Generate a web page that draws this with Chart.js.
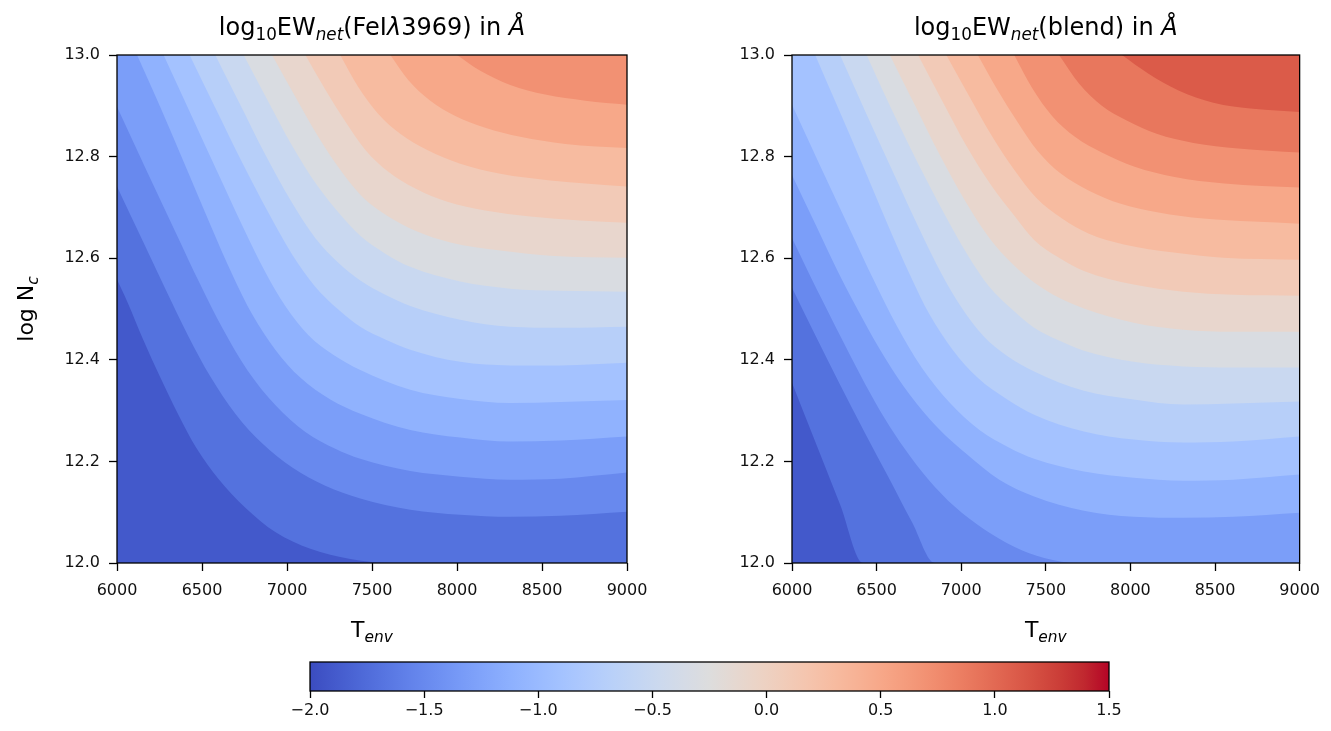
<!DOCTYPE html>
<html>
<head>
<meta charset="utf-8">
<script src="https://cdn.jsdelivr.net/npm/chart.js@4.4.1/dist/chart.umd.min.js"></script>
<style>
  html, body { margin: 0; padding: 0; background: #fff; }
  #wrap { position: relative; width: 1331px; height: 731px; background: #fff; }
  canvas { position: absolute; }
</style>
</head>
<body>
<div id="wrap">
  <canvas id="feiChart" width="660" height="650" style="left:0;top:0"></canvas>
  <canvas id="blendChart" width="660" height="650" style="left:670px;top:0"></canvas>
  <canvas id="cbarChart" width="940" height="91" style="left:240px;top:640px"></canvas>
</div>
<script>
// axes
const tempTicks = [6000, 6500, 7000, 7500, 8000, 8500, 9000];
const logNTicks = [12.0, 12.2, 12.4, 12.6, 12.8, 13.0];
const cbarTicks = [-2.0, -1.5, -1.0, -0.5, 0.0, 0.5, 1.0, 1.5];
const cbarRange = [-2.0, 1.5];

// filled contour levels, bands are 0.2 wide
const levelStep = 0.2;
const feiLevels = [-1.8, -1.6, -1.4, -1.2, -1.0, -0.8, -0.6, -0.4, -0.2, 0.0, 0.2, 0.4, 0.6];
const blendLevels = [-1.8, -1.6, -1.4, -1.2, -1.0, -0.8, -0.6, -0.4, -0.2, 0.0, 0.2, 0.4, 0.6, 0.8, 1.0];

// contour lines, [T_env, log N_c], left/top edge -> right/bottom edge
const feiContours = [
  [[6000,12.558],[6061,12.514],[6155,12.439],[6255,12.365],[6361,12.292],[6466,12.227],[6596,12.166],[6755,12.109],[6931,12.061],[7137,12.028],[7372,12.008],[7625,12.0]],
  [[6000,12.741],[6137,12.644],[6284,12.540],[6419,12.447],[6549,12.367],[6696,12.294],[6855,12.235],[7031,12.188],[7225,12.152],[7431,12.127],[7725,12.105],[8019,12.095],[8313,12.091],[8608,12.093],[9000,12.101]],
  [[6000,12.898],[6166,12.778],[6343,12.652],[6490,12.548],[6619,12.463],[6766,12.380],[6931,12.311],[7108,12.258],[7284,12.225],[7431,12.205],[7725,12.181],[8019,12.170],[8313,12.164],[8608,12.166],[9000,12.178]],
  [[6118,13.0],[6255,12.897],[6402,12.782],[6549,12.666],[6678,12.568],[6796,12.489],[6931,12.420],[7078,12.365],[7255,12.322],[7431,12.294],[7725,12.262],[8019,12.247],[8313,12.239],[8608,12.241],[9000,12.249]],
  [[6274,13.0],[6431,12.886],[6590,12.770],[6743,12.660],[6872,12.573],[6990,12.506],[7125,12.449],[7272,12.410],[7431,12.380],[7725,12.341],[8019,12.323],[8313,12.315],[8608,12.317],[9000,12.321]],
  [[6427,13.0],[6578,12.896],[6737,12.788],[6890,12.690],[7031,12.607],[7166,12.544],[7302,12.499],[7431,12.465],[7578,12.440],[7725,12.420],[8019,12.396],[8313,12.389],[8608,12.389],[9000,12.394]],
  [[6578,13.0],[6725,12.902],[6872,12.804],[7019,12.715],[7166,12.640],[7302,12.591],[7431,12.556],[7578,12.528],[7725,12.506],[8019,12.479],[8313,12.465],[8608,12.463],[9000,12.465]],
  [[6745,13.0],[6884,12.912],[7031,12.821],[7178,12.743],[7313,12.686],[7431,12.644],[7578,12.609],[7725,12.583],[8019,12.554],[8313,12.540],[8608,12.536],[9000,12.534]],
  [[6912,13.0],[7049,12.918],[7184,12.839],[7313,12.774],[7443,12.721],[7596,12.682],[7755,12.654],[7961,12.631],[8255,12.615],[8549,12.605],[9000,12.601]],
  [[7108,13.0],[7225,12.932],[7343,12.869],[7461,12.813],[7596,12.770],[7755,12.737],[7943,12.711],[8166,12.694],[8431,12.682],[8725,12.674],[9000,12.670]],
  [[7313,13.0],[7419,12.937],[7537,12.884],[7666,12.845],[7825,12.813],[8019,12.786],[8255,12.766],[8549,12.753],[9000,12.741]],
  [[7608,13.0],[7713,12.951],[7843,12.910],[7990,12.880],[8166,12.857],[8372,12.839],[8637,12.825],[9000,12.817]],
  [[8000,13.0],[8137,12.969],[8313,12.941],[8519,12.922],[8755,12.910],[9000,12.902]]
];
const blendContours = [
  [[6000,12.355],[6137,12.239],[6284,12.115],[6419,12.0]],
  [[6000,12.542],[6137,12.449],[6284,12.351],[6431,12.256],[6578,12.164],[6708,12.081],[6843,12.0]],
  [[6000,12.640],[6096,12.573],[6196,12.506],[6314,12.428],[6431,12.353],[6549,12.284],[6666,12.225],[6802,12.166],[6961,12.111],[7137,12.066],[7313,12.032],[7490,12.010],[7696,12.0]],
  [[6000,12.764],[6137,12.668],[6284,12.565],[6414,12.483],[6549,12.404],[6696,12.331],[6861,12.266],[7037,12.213],[7225,12.164],[7431,12.131],[7725,12.103],[8019,12.091],[8313,12.089],[8608,12.091],[9000,12.099]],
  [[6000,12.902],[6166,12.782],[6343,12.656],[6490,12.552],[6619,12.467],[6766,12.385],[6931,12.316],[7108,12.262],[7284,12.227],[7431,12.205],[7725,12.180],[8019,12.168],[8313,12.162],[8608,12.164],[9000,12.174]],
  [[6137,13.0],[6272,12.896],[6419,12.782],[6566,12.666],[6696,12.568],[6813,12.489],[6949,12.420],[7096,12.365],[7272,12.322],[7431,12.292],[7725,12.259],[8019,12.243],[8313,12.237],[8608,12.239],[9000,12.249]],
  [[6284,13.0],[6437,12.886],[6596,12.770],[6749,12.660],[6878,12.573],[6996,12.506],[7131,12.447],[7278,12.406],[7431,12.377],[7725,12.339],[8019,12.322],[8313,12.312],[8608,12.314],[9000,12.318]],
  [[6441,13.0],[6584,12.896],[6743,12.788],[6896,12.690],[7037,12.607],[7166,12.544],[7302,12.499],[7431,12.463],[7578,12.438],[7725,12.418],[8019,12.396],[8313,12.387],[8608,12.385],[9000,12.385]],
  [[6578,13.0],[6725,12.902],[6872,12.804],[7019,12.715],[7166,12.640],[7302,12.589],[7431,12.552],[7578,12.522],[7725,12.501],[8019,12.473],[8313,12.459],[8608,12.455],[9000,12.455]],
  [[6745,13.0],[6884,12.912],[7031,12.821],[7178,12.743],[7313,12.684],[7431,12.636],[7578,12.601],[7725,12.575],[8019,12.548],[8313,12.534],[8608,12.528],[9000,12.526]],
  [[6912,13.0],[7049,12.918],[7184,12.839],[7313,12.774],[7443,12.719],[7596,12.678],[7755,12.648],[7961,12.627],[8255,12.611],[8549,12.601],[9000,12.597]],
  [[7098,13.0],[7213,12.932],[7331,12.869],[7449,12.812],[7590,12.766],[7755,12.733],[7943,12.707],[8166,12.690],[8431,12.678],[8725,12.672],[9000,12.668]],
  [[7313,13.0],[7419,12.935],[7537,12.880],[7672,12.839],[7831,12.808],[8025,12.780],[8261,12.760],[8555,12.747],[9000,12.739]],
  [[7578,13.0],[7696,12.944],[7831,12.900],[7978,12.871],[8155,12.845],[8372,12.827],[8637,12.816],[9000,12.808]],
  [[7950,13.0],[8107,12.963],[8284,12.930],[8490,12.906],[8725,12.894],[9000,12.888]]
];

// matplotlib coolwarm, 33 samples
const CW = [[59,76,192],[68,90,204],[77,104,215],[87,117,225],[98,130,234],[108,142,241],[119,154,247],[130,165,251],
  [141,176,254],[152,185,255],[163,194,255],[174,201,253],[184,208,249],[194,213,244],[204,217,238],[213,219,230],
  [221,221,221],[229,216,209],[236,211,197],[241,204,185],[245,196,173],[247,187,160],[247,177,148],[247,166,135],
  [244,154,123],[241,141,111],[236,127,99],[229,112,88],[222,96,77],[213,80,66],[203,62,56],[192,40,47],[180,4,38]];

function coolwarm(t) {
  t = Math.min(1, Math.max(0, t));
  const f = t * 32, i = Math.min(31, Math.floor(f)), r = f - i;
  const c = CW[i].map((v, k) => Math.round(v + (CW[i + 1][k] - v) * r));
  return 'rgb(' + c.join(',') + ')';
}

// colour of the band that starts at `lower`
function bandColor(lower) {
  const mid = lower + levelStep / 2;
  return coolwarm((mid - cbarRange[0]) / (cbarRange[1] - cbarRange[0]));
}

const FONT = '"DejaVu Sans", sans-serif';
const tMin = tempTicks[0], tMax = tempTicks[tempTicks.length - 1];
const nMin = logNTicks[0], nMax = logNTicks[logNTicks.length - 1];

function contourDatasets(levels, contours) {
  const sets = [{ data: [{x: tMin, y: nMin}, {x: tMax, y: nMin}], backgroundColor: bandColor(levels[0] - levelStep) }];
  levels.forEach((lv, i) => {
    const pts = contours[i].map(([x, y]) => ({x, y}));
    // line leaves through the bottom: everything right of it is above the level
    if (pts[pts.length - 1].x < tMax) pts.push({x: tMax, y: nMin});
    sets.push({ data: pts, backgroundColor: bandColor(lv) });
  });
  // first dataset is drawn last, so put the highest level first
  return sets.reverse().map(s => Object.assign(s, {
    fill: 'end', borderWidth: 0, borderColor: 'rgba(0,0,0,0)', pointRadius: 0,
    cubicInterpolationMode: 'monotone'
  }));
}

// text with sub scripts, like matplotlib mathtext
function drawRich(ctx, parts, x, y, size, rot) {
  const fontOf = p => (p.it ? 'italic ' : '') + (p.sub ? size * 0.7 : size) + 'px ' + FONT;
  let w = 0;
  parts.forEach(p => { ctx.font = fontOf(p); w += ctx.measureText(p.t).width; });
  ctx.save();
  ctx.translate(x, y);
  if (rot) ctx.rotate(rot);
  ctx.fillStyle = '#000';
  ctx.textBaseline = 'alphabetic';
  ctx.textAlign = 'left';
  let cx = -w / 2;
  parts.forEach(p => {
    ctx.font = fontOf(p);
    ctx.fillText(p.t, cx, p.sub ? size * 0.22 : 0);
    cx += ctx.measureText(p.t).width;
  });
  ctx.restore();
}

function panelText(cfg) {
  return {
    id: 'panelText',
    afterDraw(chart) {
      const {ctx, chartArea: a} = chart;
      ctx.save();
      ctx.strokeStyle = '#000';
      ctx.lineWidth = 1.3;
      ctx.strokeRect(a.left, a.top, a.right - a.left, a.bottom - a.top);
      ctx.restore();
      const cx = (a.left + a.right) / 2;
      drawRich(ctx, cfg.title, cx, a.top - 20, 24);
      drawRich(ctx, cfg.xlabel, cx, a.bottom + 74, 22);
      if (cfg.ylabel) drawRich(ctx, cfg.ylabel, a.left - 84, (a.top + a.bottom) / 2, 22, -Math.PI / 2);
    }
  };
}

function panel(id, levels, contours, yAxisWidth, padRight, text) {
  new Chart(document.getElementById(id), {
    type: 'line',
    data: { datasets: contourDatasets(levels, contours) },
    options: {
      responsive: false, animation: false, events: [],
      layout: { padding: { left: 0, top: 55, right: padRight, bottom: 0 } },
      plugins: { legend: { display: false }, tooltip: { enabled: false } },
      scales: {
        x: {
          type: 'linear', min: tMin, max: tMax,
          afterBuildTicks: s => { s.ticks = tempTicks.map(value => ({value})); },
          afterFit: s => { s.height = 87; },
          grid: { drawOnChartArea: false, drawTicks: true, tickLength: 8, tickColor: '#000', tickWidth: 1.3 },
          border: { display: false },
          ticks: { color: '#111', padding: 10, maxRotation: 0, font: { family: FONT, size: 16 }, callback: v => String(v) }
        },
        y: {
          type: 'linear', min: nMin, max: nMax,
          afterBuildTicks: s => { s.ticks = logNTicks.map(value => ({value})); },
          afterFit: s => { s.width = yAxisWidth; },
          grid: { drawOnChartArea: false, drawTicks: true, tickLength: 8, tickColor: '#000', tickWidth: 1.3 },
          border: { display: false },
          ticks: { color: '#111', padding: 9, font: { family: FONT, size: 16 }, callback: v => v.toFixed(1) }
        }
      }
    },
    plugins: [panelText(text)]
  });
}

const titleStart = [{t: 'log'}, {t: '10', sub: 1}, {t: 'EW'}, {t: 'net', sub: 1, it: 1}];

panel('feiChart', feiLevels, feiContours, 117, 33, {
  title: titleStart.concat([{t: '(FeI'}, {t: '\u03bb', it: 1}, {t: '3969) in '}, {t: '\u00c5', it: 1}]),
  xlabel: [{t: 'T'}, {t: 'env', sub: 1, it: 1}],
  ylabel: [{t: 'log N'}, {t: 'c', sub: 1, it: 1}]
});

panel('blendChart', blendLevels, blendContours, 122, 30, {
  title: titleStart.concat([{t: '(blend) in '}, {t: '\u00c5', it: 1}]),
  xlabel: [{t: 'T'}, {t: 'env', sub: 1, it: 1}]
});

// colour bar: one floating bar across the full range, painted with the colormap
new Chart(document.getElementById('cbarChart'), {
  type: 'bar',
  data: {
    labels: [''],
    datasets: [{
      data: [cbarRange],
      borderWidth: 0,
      barPercentage: 1,
      categoryPercentage: 1,
      backgroundColor: ctx => {
        const a = ctx.chart.chartArea;
        if (!a) return '#888';
        const g = ctx.chart.ctx.createLinearGradient(a.left, 0, a.right, 0);
        CW.forEach((c, i) => g.addColorStop(i / 32, 'rgb(' + c.join(',') + ')'));
        return g;
      }
    }]
  },
  options: {
    indexAxis: 'y',
    responsive: false, animation: false, events: [],
    layout: { padding: { left: 70, top: 22, right: 71, bottom: 0 } },
    plugins: { legend: { display: false }, tooltip: { enabled: false } },
    scales: {
      y: { display: false },
      x: {
        type: 'linear', min: cbarRange[0], max: cbarRange[1],
        afterBuildTicks: s => { s.ticks = cbarTicks.map(value => ({value})); },
        afterFit: s => { s.height = 40; },
        grid: { drawOnChartArea: false, drawTicks: true, tickLength: 7, tickColor: '#000', tickWidth: 1.3 },
        border: { display: false },
        ticks: { color: '#111', padding: 3, maxRotation: 0, font: { family: FONT, size: 16 },
          callback: v => (v < 0 ? '\u2212' : '') + Math.abs(v).toFixed(1) }
      }
    }
  },
  plugins: [{
    id: 'cbarFrame',
    afterDraw(chart) {
      const {ctx, chartArea: a} = chart;
      ctx.save();
      ctx.strokeStyle = '#000';
      ctx.lineWidth = 1.3;
      ctx.strokeRect(a.left, a.top, a.right - a.left, a.bottom - a.top);
      ctx.restore();
    }
  }]
});
</script>
</body>
</html>
